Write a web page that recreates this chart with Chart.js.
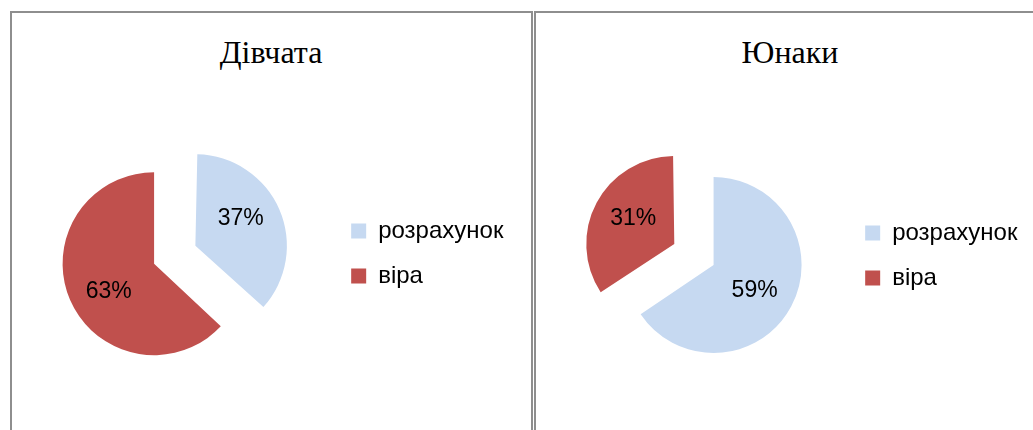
<!DOCTYPE html>
<html><head><meta charset="utf-8">
<script src="https://cdn.jsdelivr.net/npm/chart.js@4.4.1/dist/chart.umd.min.js"></script>
<style>
html,body{margin:0;padding:0;background:#fff;width:1033px;height:430px;overflow:hidden;position:relative}
.panel{position:absolute;top:11px;height:440px;border:2px solid #8e8e8e;box-sizing:border-box}
.title{position:absolute;top:36px;font-family:'Liberation Serif','Times New Roman',serif;font-size:32px;line-height:32px;text-align:center;color:#000;white-space:nowrap}
.wrap{position:absolute;top:13px;height:417px}
</style></head><body>
<div class="panel" style="left:10px;width:523px"></div>
<div class="panel" style="left:534px;width:520px"></div>
<div class="title" id="t1" style="left:12px;width:518px"></div>
<div class="title" id="t2" style="left:536px;width:508px"></div>
<div class="wrap" style="left:-22px;width:554px"><canvas id="c1"></canvas></div>
<div class="wrap" style="left:540px;width:493px"><canvas id="c2"></canvas></div>
<script>
// ---- data ----
const categories = ['розрахунок', 'віра'];
const chartTitles = ['Дівчата', 'Юнаки'];
const girlsValues = [37, 63];
const boysValues = [59, 31];
const sliceColors = ['#C6D9F1', '#C0504D'];
const girlsExplode = [45, 0];   // explode distance (px) per slice
const boysExplode = [0, 44.5];

Chart.defaults.font.family = "'Liberation Sans', Arial, sans-serif";
Chart.defaults.color = '#000';

document.getElementById('t1').textContent = chartTitles[0];
document.getElementById('t2').textContent = chartTitles[1];

// Chart.js grows an offset arc's radius a bit; keep the exploded slice at the same radius
const explodeFix = {
  id: 'explodeFix',
  afterDatasetUpdate(chart, args) {
    args.meta.data.forEach(arc => {
      const off = (arc.options.offset || 0) / 4;
      const fix = 1 - Math.sin(Math.min(Math.PI, arc.circumference || 0));
      arc.outerRadius -= off * fix;
    });
  }
};

const sliceLabels = {
  id: 'sliceLabels',
  afterDatasetsDraw(chart, args, o) {
    const ctx = chart.ctx;
    const ds = chart.data.datasets[0];
    const meta = chart.getDatasetMeta(0);
    ctx.save();
    ctx.font = "23px 'Liberation Sans', Arial, sans-serif";
    ctx.fillStyle = '#000';
    ctx.textAlign = 'center';
    ctx.textBaseline = 'middle';
    meta.data.forEach((arc, i) => {
      const off = (arc.options.offset || 0) / 4;
      const mid = (arc.startAngle + arc.endAngle) / 2;
      const cx = arc.x + Math.cos(mid) * off;
      const cy = arc.y + Math.sin(mid) * off;
      const R = arc.outerRadius + off * (1 - Math.sin(Math.min(Math.PI, arc.circumference)));
      const a = mid + o.angleShift * Math.PI / 180;
      ctx.fillText(ds.data[i] + '%', cx + Math.cos(a) * R * o.dist, cy + Math.sin(a) * R * o.dist);
    });
    ctx.restore();
  }
};

function makePie(id, values, explode, radius, padding, labelOpts) {
  return new Chart(document.getElementById(id), {
    type: 'pie',
    data: {
      labels: categories,
      datasets: [{
        data: values,
        backgroundColor: sliceColors,
        borderWidth: 0,
        offset: explode.map(d => d * 4),
        radius: radius,
        clip: false
      }]
    },
    options: {
      responsive: true,
      maintainAspectRatio: false,
      animation: false,
      events: [],
      cutout: '0%',
      layout: { padding: padding },
      plugins: {
        title: { display: false },
        tooltip: { enabled: false },
        legend: {
          position: 'right',
          align: 'start',
          labels: {
            boxWidth: 15, boxHeight: 15, padding: 21, color: '#000',
            font: { size: 24 }
          }
        },
        sliceLabels: labelOpts
      }
    },
    plugins: [explodeFix, sliceLabels]
  });
}

makePie('c1', girlsValues, girlsExplode, 91.5,
  { left: 0, top: 185, right: 18.6, bottom: 100.6 }, { dist: 0.58, angleShift: -8 });
makePie('c2', boysValues, boysExplode, 88,
  { left: 43, top: 187, right: 5.6, bottom: 100 }, { dist: 0.55, angleShift: 4 });
</script>
</body></html>
